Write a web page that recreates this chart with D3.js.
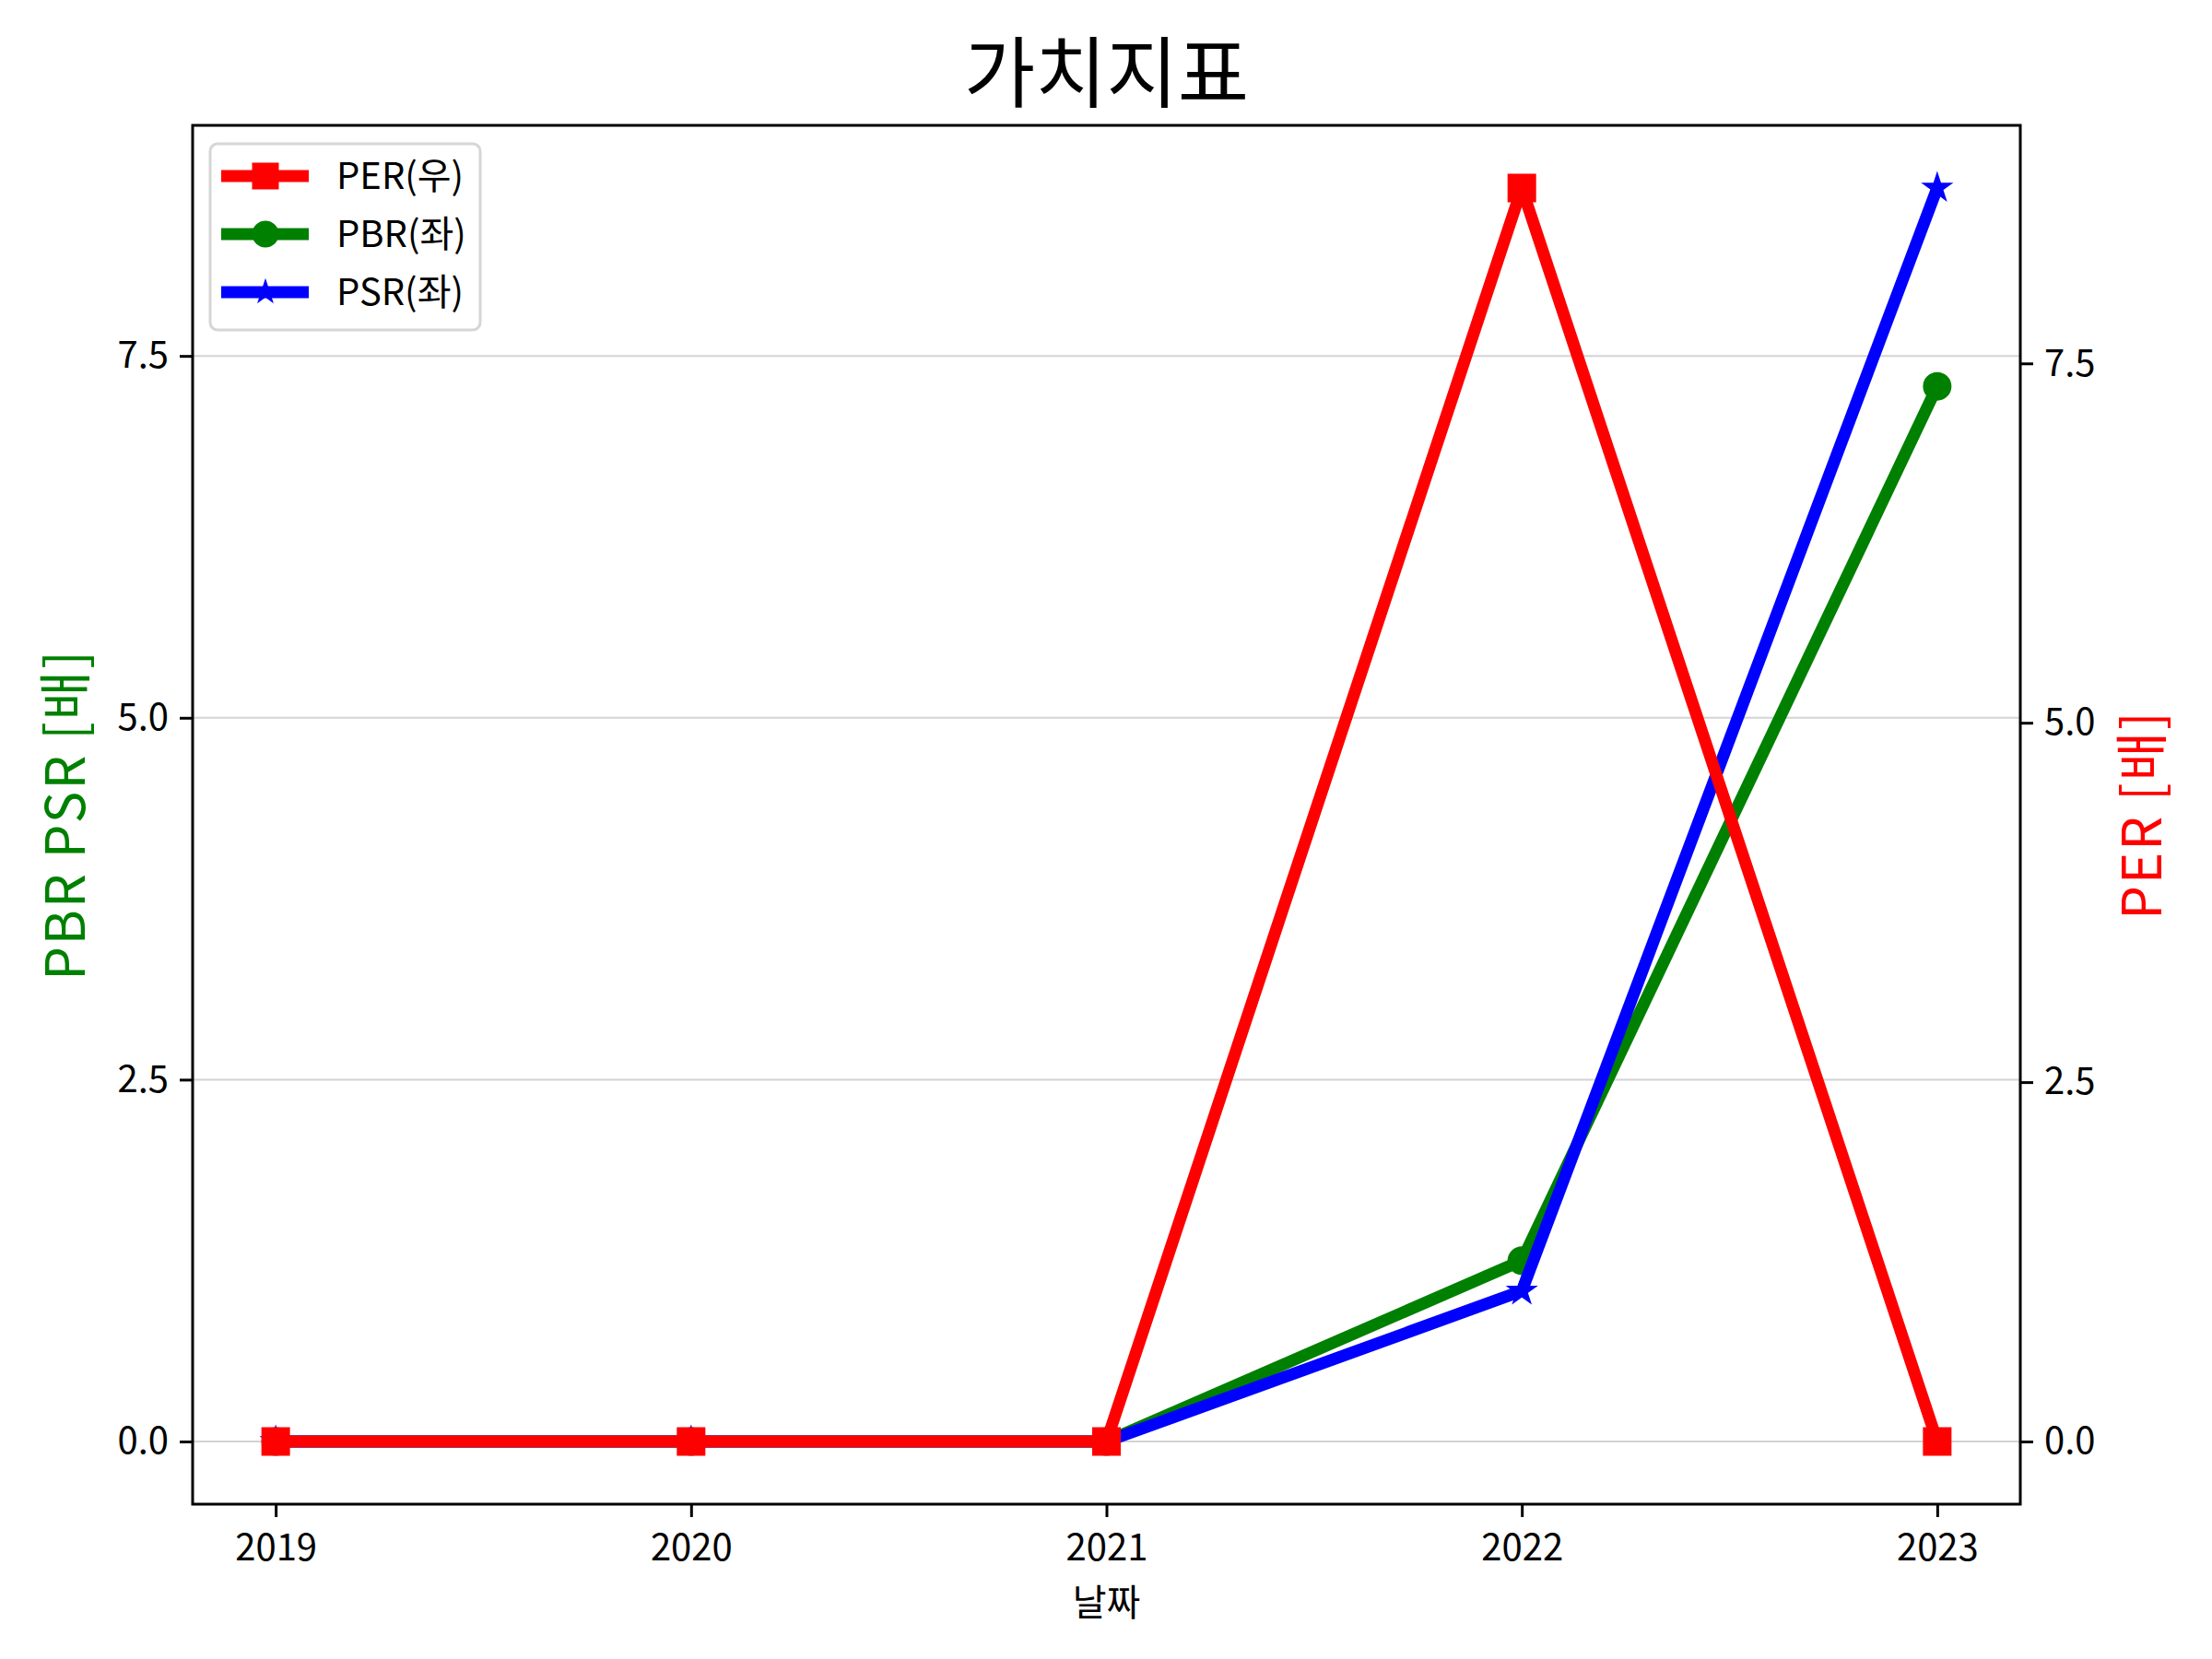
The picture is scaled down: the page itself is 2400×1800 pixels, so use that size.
<!DOCTYPE html>
<meta charset="utf-8">
<title>가치지표</title>
<body>
<script src="https://cdn.jsdelivr.net/npm/d3@7"></script>
<style>
html, body {
    margin: 0;
    background: #fff;
}
svg {
    display: block;
    font-family: "Noto Sans CJK KR", "Noto Sans", sans-serif;
}
</style>
<script>
var years = [2019, 2020, 2021, 2022, 2023],
    per = [0, 0, 0, 8.72, 0],
    pbr = [0, 0, 0, 1.25, 7.29],
    psr = [0, 0, 0, 1.04, 8.66],
    yTicks = [0, 2.5, 5, 7.5];

var width = 2400,
    height = 1800,
    plotLeft = 209,
    plotRight = 2192,
    plotTop = 136,
    plotBottom = 1632;

// matplotlib-style 5% margins around the data
function padded(values) {
    var lo = d3.min(values), hi = d3.max(values), m = (hi - lo) * 0.05;
    return [lo - m, hi + m];
}

var x = d3.scaleLinear().domain(padded(years)).range([plotLeft, plotRight]);
var yL = d3.scaleLinear().domain(padded(pbr.concat(psr))).range([plotBottom, plotTop]);
var yR = d3.scaleLinear().domain(padded(per)).range([plotBottom, plotTop]);

var svg = d3.select("body").append("svg")
    .attr("width", width)
    .attr("height", height);

// grid from the left axis
svg.append("g")
    .selectAll("line")
    .data(yTicks)
    .enter().append("line")
    .attr("x1", plotLeft).attr("x2", plotRight)
    .attr("y1", function(d) { return yL(d); })
    .attr("y2", function(d) { return yL(d); })
    .attr("stroke", "#d3d3d3")
    .attr("stroke-width", 2);

function styleAxis(g) {
    g.attr("font-family", null).attr("font-size", 40);
    g.select(".domain").remove();
    g.selectAll(".tick line").attr("stroke", "#000").attr("stroke-width", 3);
    g.selectAll(".tick text").attr("fill", "#000");
}

svg.append("g")
    .attr("transform", "translate(0," + plotBottom + ")")
    .call(d3.axisBottom(x).tickValues(years).tickFormat(d3.format("d")).tickSize(14).tickPadding(19))
    .call(styleAxis);

svg.append("g")
    .attr("transform", "translate(" + plotLeft + ",0)")
    .call(d3.axisLeft(yL).tickValues(yTicks).tickFormat(d3.format(".1f")).tickSize(14).tickPadding(12))
    .call(styleAxis);

svg.append("g")
    .attr("transform", "translate(" + plotRight + ",0)")
    .call(d3.axisRight(yR).tickValues(yTicks).tickFormat(d3.format(".1f")).tickSize(14).tickPadding(12))
    .call(styleAxis);

var series = [
    { name: "PBR(좌)", values: pbr, y: yL, color: "#008000", symbol: d3.symbolCircle, size: 660 },
    { name: "PSR(좌)", values: psr, y: yL, color: "#0000ff", symbol: d3.symbolStar, size: 260 },
    { name: "PER(우)", values: per, y: yR, color: "#ff0000", symbol: d3.symbolSquare, size: 841 }
];

series.forEach(function(s) {
    var line = d3.line()
        .x(function(d, i) { return x(years[i]); })
        .y(function(d) { return s.y(d); });

    svg.append("path")
        .datum(s.values)
        .attr("d", line)
        .attr("fill", "none")
        .attr("stroke", s.color)
        .attr("stroke-width", 13)
        .attr("stroke-linejoin", "round");

    svg.append("g")
        .selectAll("path")
        .data(s.values)
        .enter().append("path")
        .attr("d", d3.symbol().type(s.symbol).size(s.size))
        .attr("transform", function(d, i) { return "translate(" + x(years[i]) + "," + s.y(d) + ")"; })
        .attr("fill", s.color)
        .attr("stroke", s.color)
        .attr("stroke-width", 2);
});

// frame
svg.append("rect")
    .attr("x", plotLeft).attr("y", plotTop)
    .attr("width", plotRight - plotLeft).attr("height", plotBottom - plotTop)
    .attr("fill", "none")
    .attr("stroke", "#000")
    .attr("stroke-width", 3);

// legend
var legendOrder = [series[2], series[0], series[1]];
svg.append("rect")
    .attr("x", 228).attr("y", 156)
    .attr("width", 293).attr("height", 202)
    .attr("rx", 8)
    .attr("fill", "#fff")
    .attr("fill-opacity", 0.8)
    .attr("stroke", "#d6d6d6")
    .attr("stroke-width", 3);

var item = svg.append("g").selectAll("g")
    .data(legendOrder)
    .enter().append("g")
    .attr("transform", function(d, i) { return "translate(0," + (191 + i * 63) + ")"; });

item.append("line")
    .attr("x1", 240).attr("x2", 335)
    .attr("stroke", function(d) { return d.color; })
    .attr("stroke-width", 13);

item.append("path")
    .attr("d", function(d) { return d3.symbol().type(d.symbol).size(d.size)(); })
    .attr("transform", "translate(288,0)")
    .attr("fill", function(d) { return d.color; });

item.append("text")
    .attr("x", 365)
    .attr("dy", "0.35em")
    .attr("font-size", 40)
    .text(function(d) { return d.name; });

// titles
svg.append("text")
    .attr("x", (plotLeft + plotRight) / 2)
    .attr("y", 110)
    .attr("text-anchor", "middle")
    .attr("font-size", 84)
    .text("가치지표");

svg.append("text")
    .attr("x", (plotLeft + plotRight) / 2)
    .attr("y", 1753)
    .attr("text-anchor", "middle")
    .attr("font-size", 40)
    .text("날짜");

svg.append("text")
    .attr("transform", "translate(92," + (plotTop + plotBottom) / 2 + ") rotate(-90)")
    .attr("text-anchor", "middle")
    .attr("font-size", 58)
    .attr("letter-spacing", 2)
    .attr("fill", "#008000")
    .text("PBR PSR [배]");

svg.append("text")
    .attr("transform", "translate(2345," + (plotTop + plotBottom) / 2 + ") rotate(-90)")
    .attr("text-anchor", "middle")
    .attr("font-size", 58)
    .attr("letter-spacing", 2)
    .attr("fill", "#ff0000")
    .text("PER [배]");
</script>
